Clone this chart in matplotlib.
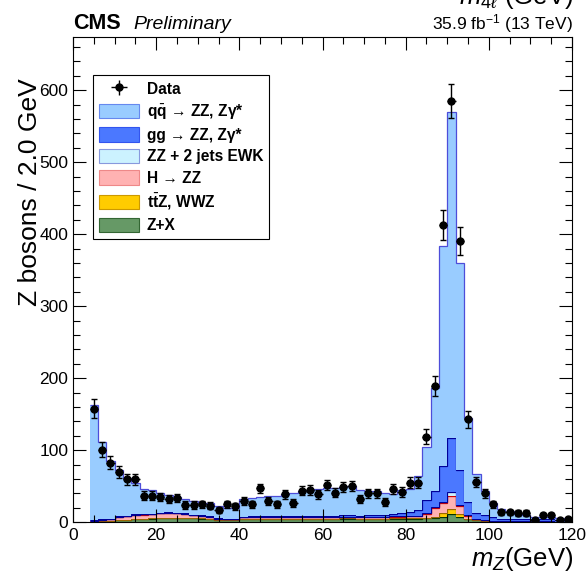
import numpy as np
import matplotlib
matplotlib.use('Agg')
import matplotlib.pyplot as plt
from matplotlib.patches import Patch
from matplotlib.ticker import MultipleLocator

# ROOT / CMS look: Helvetica-like sans, bold legend
plt.rcParams['font.family'] = ['Liberation Sans', 'DejaVu Sans']
plt.rcParams['mathtext.fontset'] = 'custom'
plt.rcParams['mathtext.rm'] = 'Liberation Sans'
plt.rcParams['mathtext.it'] = 'Liberation Sans:italic'
plt.rcParams['mathtext.bf'] = 'Liberation Sans:bold'

# binning: 2 GeV bins from 4 to 120 GeV
edges = np.arange(4, 122, 2)
centers = edges[:-1] + 1

# observed events per bin
data = [158, 101, 83, 70, 60, 60, 37, 37, 35, 32,
        34, 24, 24, 25, 23, 17, 25, 22, 30, 25,
        47, 30, 25, 39, 27, 44, 45, 39, 52, 41,
        49, 50, 32, 40, 40, 28, 46, 42, 55, 55,
        119, 189, 413, 585, 391, 143, 56, 40, 25, 14,
        14, 13, 13, 3, 10, 10, 3, 4]

# expected yields per process (not stacked)
zx = [1, 1.5, 2, 3, 3, 4, 4.5, 5, 5.5, 6,
      6, 6, 5.5, 5, 4.5, 3, 2.5, 2.5, 4, 4.5,
      4.5, 4.5, 4.5, 4.5, 4.5, 4.5, 4.5, 4.5, 4.5, 4.5,
      5, 5, 4.5, 4.5, 4.5, 4.5, 5, 5, 5, 5,
      5.5, 6, 8, 12, 8, 4, 2.5, 2, 1.5, 1,
      1, 1, 1, 0.8, 0.8, 0.8, 0.6, 0.6]
ttz = [0.1, 0.1, 0.2, 0.2, 0.2, 0.3, 0.3, 0.3, 0.3, 0.3,
       0.3, 0.3, 0.3, 0.3, 0.3, 0.2, 0.2, 0.2, 0.3, 0.3,
       0.3, 0.3, 0.3, 0.3, 0.3, 0.3, 0.3, 0.3, 0.3, 0.3,
       0.3, 0.3, 0.3, 0.3, 0.4, 0.4, 0.5, 0.5, 0.6, 0.8,
       1.0, 1.5, 4.5, 7, 3, 1, 0.6, 0.4, 0.3, 0.2,
       0.2, 0.2, 0.2, 0.2, 0.2, 0.2, 0.2, 0.2]
hzz = [1, 1.5, 2, 4, 5, 6, 6, 6, 6.5, 6.5,
       6, 5.5, 4, 3.5, 3, 1.5, 1.5, 1.5, 2.5, 2.5,
       2, 2, 2, 2, 2, 2, 2, 2, 2, 2,
       2, 2, 2, 2, 2, 2, 2.5, 2.5, 2.5, 3,
       5.5, 13, 14, 18, 11, 4, 1, 0.5, 0.4, 0.3,
       0.3, 0.3, 0.2, 0.2, 0.2, 0.2, 0.2, 0.2]
ewk = [0.1, 0.1, 0.1, 0.1, 0.1, 0.1, 0.1, 0.1, 0.1, 0.1,
       0.1, 0.1, 0.1, 0.1, 0.1, 0.1, 0.1, 0.1, 0.1, 0.1,
       0.1, 0.1, 0.1, 0.1, 0.1, 0.1, 0.1, 0.1, 0.1, 0.1,
       0.1, 0.1, 0.1, 0.1, 0.2, 0.2, 0.2, 0.2, 0.3, 0.3,
       0.5, 1, 2, 4.5, 2, 0.5, 0.3, 0.2, 0.2, 0.1,
       0.1, 0.1, 0.1, 0.1, 0.1, 0.1, 0.1, 0.1]
ggzz = [0.8, 0.8, 0.8, 0.8, 0.8, 0.8, 0.8, 0.8, 0.8, 0.8,
        0.8, 0.8, 0.8, 0.8, 0.8, 0.6, 0.6, 0.6, 1, 1.2,
        1.5, 1.5, 1.5, 1.8, 1.8, 2, 2, 2.2, 2.2, 2.4,
        2.5, 2.5, 2.5, 2.6, 2.8, 3, 4, 4.5, 5.5, 8,
        19, 22, 50, 75, 48, 19, 9, 7, 4.5, 3.5,
        3, 3, 3, 2.8, 2.8, 2.6, 2.5, 2.5]
qqzz = [160, 108, 80, 64, 53, 43, 34, 33, 27, 24,
        22, 19, 19, 17, 18, 17, 15, 15, 25, 25.5,
        26.6, 27.6, 28.6, 30.3, 32.3, 35, 36, 37, 38, 38.7,
        39, 40, 35.6, 34.5, 33, 30, 27, 32, 32, 47,
        72.5, 142.5, 305, 454, 288, 116.5, 53.6, 34, 20, 14,
        10.4, 7.4, 5.5, 3.9, 2.9, 3.1, 2.4, 1.4]

# stacked bottom -> top: values, fill, line, legend edge, label
stack = [
    (zx,   '#669966', '#003300', '#336633', 'Z+X'),
    (ttz,  '#ffcc00', '#996600', '#cc9900', r't$\bar{\mathbf{t}}$Z, WWZ'),
    (hzz,  '#ffb2b2', '#cc0000', '#ee8888', 'H → ZZ'),
    (ewk,  '#ccf2ff', '#000099', '#8899dd', 'ZZ + 2 jets EWK'),
    (ggzz, '#4b78ff', '#000099', '#3355ee', 'gg → ZZ, Zγ*'),
    (qqzz, '#99ccff', '#4d4dd9', '#6688ee', r'q$\bar{\mathbf{q}}$ → ZZ, Zγ*'),
]

fig = plt.figure(figsize=(5.86, 5.71), dpi=100)
ax = fig.add_axes([0.1246, 0.0853, 0.8515, 0.8499])

base = np.zeros(len(centers))
for vals, fc, ec, _, _ in stack:
    top = base + np.array(vals)
    ax.stairs(top, edges, baseline=base, fill=True, color=fc, lw=0)
    ax.stairs(top, edges, baseline=None, color=ec, lw=0.9)
    base = top

data = np.array(data, dtype=float)
eb = ax.errorbar(centers, data, xerr=1, yerr=np.sqrt(data), fmt='o', color='black',
                 ms=5, elinewidth=1, capsize=2, capthick=1)
# no caps on the horizontal bars
eb[1][0].set_visible(False)
eb[1][1].set_visible(False)

ax.set_xlim(0, 120)
ax.set_ylim(0, 674)
ax.xaxis.set_major_locator(MultipleLocator(20))
ax.xaxis.set_minor_locator(MultipleLocator(5))
ax.yaxis.set_major_locator(MultipleLocator(100))
ax.yaxis.set_minor_locator(MultipleLocator(20))
ax.tick_params(which='both', direction='in', top=True, right=True, labelsize=12.5)
ax.tick_params(which='major', length=9.5, width=0.8)
ax.tick_params(axis='x', which='major', pad=4)
ax.tick_params(which='minor', length=5, width=0.8)
for s in ax.spines.values():
    s.set_linewidth(0.8)

# legend
handles = [eb] + [Patch(facecolor=fc, edgecolor=le, lw=0.8) for _, fc, _, le, _ in stack[::-1]]
labels = ['Data'] + [lab for *_, lab in stack[::-1]]
leg = ax.legend(handles, labels, loc='upper left', bbox_to_anchor=(0.040, 0.922),
                frameon=True, fancybox=False, edgecolor='black', framealpha=1,
                prop={'weight': 'bold', 'size': 11.2}, handlelength=2.55,
                handleheight=1.05, labelspacing=0.38, borderpad=0.4, handletextpad=0.5,
                borderaxespad=0)
leg.get_frame().set_linewidth(0.8)

# axis titles, ROOT style placement
fig.text(0.051, 1 - 78 / 571, 'Z bosons / 2.0 GeV', rotation=90, ha='center', va='top', size=19)
fig.text(573 / 586, 5 / 571, r'$m_{Z}$(GeV)', ha='right', va='baseline', size=18.5)
fig.text(573 / 586, 1 - 4 / 571, r'$m_{4\ell}$ (GeV)', ha='right', va='baseline', size=18.5)

fig.text(73 / 586, 1 - 29 / 571, 'CMS', weight='bold', ha='left', va='baseline', size=15.5)
fig.text(133 / 586, 1 - 29 / 571, 'Preliminary', style='italic', ha='left', va='baseline', size=14)
fig.text(573 / 586, 1 - 29 / 571, r'35.9 fb$^{\mathregular{-1}}$ (13 TeV)', ha='right', va='baseline', size=12.5)

fig.savefig('out.png', dpi=100)
